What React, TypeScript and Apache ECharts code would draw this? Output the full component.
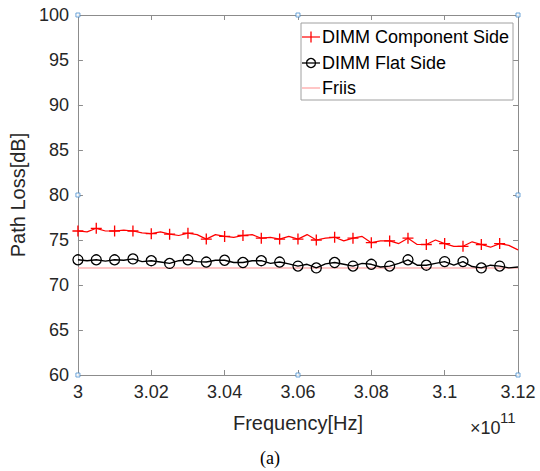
import React, { useEffect, useRef } from "react";
import * as echarts from "echarts";

// Frequency in units of 1e11 Hz, one point every 0.0025e11 Hz
const FREQ_START = 3.0;
const FREQ_STEP = 0.0025;
const componentSide = [
  76.0, 75.9, 76.3, 76.0, 76.0, 76.1, 76.0, 75.8, 75.7, 75.9,
  75.65, 75.5, 75.75, 75.6, 75.1, 75.6, 75.4, 75.3, 75.5, 75.6,
  75.2, 75.3, 75.1, 75.4, 75.1, 75.6, 75.0, 75.2, 75.3, 74.9,
  75.2, 75.4, 74.7, 74.9, 74.9, 74.6, 75.2, 74.5, 74.5, 75.0,
  74.6, 74.3, 74.3, 74.8, 74.5, 74.2, 74.6, 74.4, 73.9,
];
const flatSide = [
  72.8, 72.7, 72.8, 72.65, 72.8, 72.75, 72.9, 72.6, 72.7, 72.55,
  72.4, 72.7, 72.8, 72.6, 72.55, 72.75, 72.75, 72.5, 72.5, 72.7,
  72.7, 72.4, 72.55, 72.35, 72.1, 72.3, 71.9, 72.35, 72.5, 72.3,
  72.1, 72.4, 72.3, 72.0, 72.1, 72.4, 72.8, 72.2, 72.2, 72.4,
  72.6, 72.2, 72.6, 72.05, 71.9, 72.2, 72.1, 71.9, 72.0,
];
const friisFreq = [3.0, 3.12];
const friis = [71.9, 71.9];
const handlePoints = [
  [3.0, 100], [3.06, 100], [3.12, 100], [3.12, 80],
  [3.0, 80], [3.0, 60], [3.06, 60], [3.12, 60],
];
const legendNames = ["DIMM Component Side", "DIMM Flat Side", "Friis"];

const PLUS =
  "path://M-1,-0.12L-0.12,-0.12L-0.12,-1L0.12,-1L0.12,-0.12L1,-0.12L1,0.12L0.12,0.12L0.12,1L-0.12,1L-0.12,0.12L-1,0.12Z";

function toData(vals: number[]) {
  return vals.map((v, i) => {
    const x = FREQ_START + FREQ_STEP * i;
    const marker = i % 2 === 0 && i !== vals.length - 1;
    return marker ? { value: [x, v] } : { value: [x, v], symbol: "none" };
  });
}

export default function App() {
  const ref = useRef<HTMLDivElement>(null);
  useEffect(() => {
    const chart = echarts.init(ref.current!, null, { renderer: "svg" });
    const font = "'Liberation Sans', Arial, Helvetica, sans-serif";
    const axisColor = "#8c8c8c";
    const labelColor = "#262626";
    const fmt = (v: number) => String(+v.toFixed(2));
    chart.setOption({
      animation: false,
      backgroundColor: "#fff",
      grid: { left: 67, right: 22, top: 15, bottom: 96 },
      xAxis: [
        {
          type: "value", min: 3.0, max: 3.12, interval: 0.02,
          name: "Frequency[Hz]", nameLocation: "middle", nameGap: 38,
          nameTextStyle: { fontFamily: font, fontSize: 20, color: labelColor },
          axisLine: { show: true, onZero: false, lineStyle: { color: axisColor, width: 1 } },
          axisTick: { show: true, inside: true, length: 5, lineStyle: { color: axisColor } },
          axisLabel: { fontFamily: font, fontSize: 18, color: labelColor, margin: 8, formatter: fmt },
          splitLine: { show: false },
        },
        {
          type: "value", min: 3.0, max: 3.12, interval: 0.02, position: "top",
          axisLine: { show: true, onZero: false, lineStyle: { color: axisColor, width: 1 } },
          axisTick: { show: true, inside: true, length: 5, lineStyle: { color: axisColor } },
          axisLabel: { show: false },
          splitLine: { show: false },
        },
      ],
      yAxis: [
        {
          type: "value", min: 60, max: 100, interval: 5,
          name: "Path Loss[dB]", nameLocation: "middle", nameGap: 38,
          nameTextStyle: { fontFamily: font, fontSize: 20, color: labelColor },
          axisLine: { show: true, onZero: false, lineStyle: { color: axisColor, width: 1 } },
          axisTick: { show: true, inside: true, length: 5, lineStyle: { color: axisColor } },
          axisLabel: { fontFamily: font, fontSize: 18, color: labelColor, margin: 9 },
          splitLine: { show: false },
        },
        {
          type: "value", min: 60, max: 100, interval: 5, position: "right",
          axisLine: { show: true, onZero: false, lineStyle: { color: axisColor, width: 1 } },
          axisTick: { show: true, inside: true, length: 5, lineStyle: { color: axisColor } },
          axisLabel: { show: false },
          splitLine: { show: false },
        },
      ],
      series: [
        {
          name: legendNames[2], type: "line", data: friisFreq.map((f, i) => [f, friis[i]]),
          symbol: "none", lineStyle: { color: "#ffb3b3", width: 1.5 }, z: 2,
        },
        {
          name: legendNames[1], type: "line", data: toData(flatSide),
          showAllSymbol: true, symbol: "circle", symbolSize: 10,
          itemStyle: { color: "rgba(0,0,0,0)", borderColor: "#000", borderWidth: 1.3 },
          lineStyle: { color: "#000", width: 1.4 }, z: 3,
        },
        {
          name: legendNames[0], type: "line", data: toData(componentSide),
          showAllSymbol: true, symbol: PLUS, symbolSize: 11,
          itemStyle: { color: "#ff0000" },
          lineStyle: { color: "#ff0000", width: 1.2 }, z: 4,
        },
        {
          type: "scatter", data: handlePoints, symbol: "rect", symbolSize: 4,
          itemStyle: { color: "#ffffff", borderColor: "#4a8fd0", borderWidth: 1 },
          clip: false, z: 10,
        },
      ],
      graphic: [
        {
          type: "rect", shape: { x: 301, y: 23, width: 212, height: 77 },
          style: { fill: "#fff", stroke: "#a0a0a0", lineWidth: 1 }, z: 100,
        },
        { type: "line", shape: { x1: 302, y1: 37, x2: 320, y2: 37 }, style: { stroke: "#ff0000", lineWidth: 1.2 }, z: 101 },
        { type: "line", shape: { x1: 311, y1: 31.5, x2: 311, y2: 42.5 }, style: { stroke: "#ff0000", lineWidth: 1.3 }, z: 101 },
        { type: "line", shape: { x1: 302, y1: 63, x2: 320, y2: 63 }, style: { stroke: "#000", lineWidth: 1.3 }, z: 101 },
        { type: "circle", shape: { cx: 311, cy: 63, r: 4.5 }, style: { fill: "none", stroke: "#000", lineWidth: 1.3 }, z: 101 },
        { type: "line", shape: { x1: 302, y1: 88, x2: 320, y2: 88 }, style: { stroke: "#ffb3b3", lineWidth: 1.5 }, z: 101 },
        { type: "text", x: 322, y: 37, style: { text: legendNames[0], font: `18px ${font}`, fill: "#000", verticalAlign: "middle" }, z: 101 },
        { type: "text", x: 322, y: 63, style: { text: legendNames[1], font: `18px ${font}`, fill: "#000", verticalAlign: "middle" }, z: 101 },
        { type: "text", x: 322, y: 88, style: { text: legendNames[2], font: `18px ${font}`, fill: "#000", verticalAlign: "middle" }, z: 101 },
        { type: "text", x: 470, y: 428, style: { text: "×10", font: `18px ${font}`, fill: labelColor, verticalAlign: "middle" }, z: 101 },
        { type: "text", x: 500, y: 417, style: { text: "11", font: `15px ${font}`, fill: labelColor, verticalAlign: "middle" }, z: 101 },
        { type: "text", x: 270, y: 458, style: { text: "(a)", font: `18px 'Liberation Serif', 'Times New Roman', serif`, fill: "#000", align: "center", verticalAlign: "middle" }, z: 101 },
      ],
    });
    return () => chart.dispose();
  }, []);
  return (
    <div
      ref={ref}
      style={{ position: "fixed", left: 0, top: 0, width: 540, height: 471, background: "#fff" }}
    />
  );
}
